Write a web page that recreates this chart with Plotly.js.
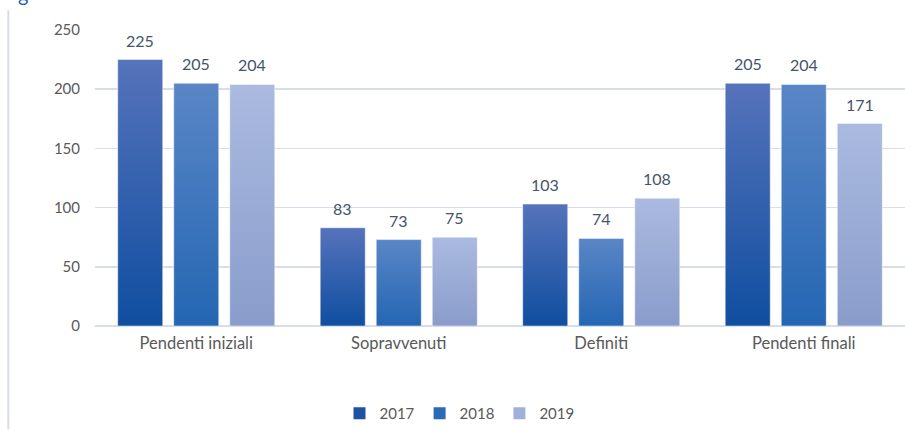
<!DOCTYPE html>
<html><head><meta charset="utf-8">
<script src="https://cdn.plot.ly/plotly-3.0.1.min.js"></script>
<style>html,body{margin:0;padding:0;background:#fff;}#chart{width:905px;height:430px;}</style>
</head><body><div id="chart"></div>
<script>
const categories = ["Pendenti iniziali", "Sopravvenuti", "Definiti", "Pendenti finali"];
const years = ["2017", "2018", "2019"];
const v2017 = [225, 83, 103, 205];
const v2018 = [205, 73, 74, 204];
const v2019 = [204, 75, 108, 171];
const yTicks = [0, 50, 100, 150, 200, 250];

const solid = ["#1f52a3", "#2a6ab7", "#9fb1db"];
const grads = [["#5673bb", "#0f4ea0"], ["#5a86c6", "#2466b3"], ["#aabae0", "#8a9ccb"]];
const series = [v2017, v2018, v2019];
const font = "Lato, 'Open Sans', sans-serif";

const traces = series.map((vals, i) => ({
  type: "bar", name: years[i], x: categories, y: vals,
  marker: {color: solid[i], line: {width: 0}},
  hoverinfo: "none"
}));

// data labels positioned through the axes, shifted per group slot
const slotPx = 56;
const labelAnn = [];
series.forEach((vals, i) => {
  vals.forEach((v, j) => {
    labelAnn.push({xref: "x", yref: "y", x: categories[j], y: v, xshift: (i - 1) * slotPx, yshift: 8,
      yanchor: "bottom", text: String(v), showarrow: false,
      font: {family: font, size: 16, color: "#44546a"}});
  });
});

const layout = {
  width: 905, height: 430,
  margin: {l: 95, r: 0, t: 30, b: 103},
  paper_bgcolor: "#fff", plot_bgcolor: "#fff",
  font: {family: font, size: 14, color: "#595959"},
  barmode: "group", bargap: 0.17, bargroupgap: 0.196,
  xaxis: {showgrid: false, showline: false, ticks: "", tickfont: {size: 16.5, color: "#595959"}, ticklabelstandoff: 5},
  yaxis: {range: [0, 250], tickvals: yTicks, showgrid: true, gridcolor: "#d9dde6", gridwidth: 1.5,
          zeroline: true, zerolinecolor: "#d9dde6", zerolinewidth: 1.5, showline: false,
          tickfont: {size: 15, color: "#595959"}, ticklabelstandoff: 14},
  showlegend: true,
  legend: {orientation: "h", x: 0.45, xanchor: "center", y: -0.24, yanchor: "top",
           font: {size: 15, color: "#595959"}, itemwidth: 30, traceorder: "normal"},
  shapes: [{type: "line", xref: "paper", yref: "paper", x0: -0.107, x1: -0.107, y0: 1.067, y1: -0.35,
            line: {color: "#d9dde3", width: 2}}],
  annotations: labelAnn.concat([{xref: "paper", yref: "paper", x: -0.0975, y: 1.074, xanchor: "left", yanchor: "bottom",
                 text: "g", showarrow: false, font: {family: font, size: 20, color: "#1f5fa8"}}])
};

Plotly.newPlot("chart", traces, layout, {displayModeBar: false, staticPlot: true}).then(gd => {
  const svg = gd.querySelector("svg.main-svg");
  let defs = svg.querySelector("defs");
  const ns = "http://www.w3.org/2000/svg";
  grads.forEach((g, i) => {
    const lg = document.createElementNS(ns, "linearGradient");
    lg.setAttribute("id", "bargrad" + i);
    lg.setAttribute("x1", "0"); lg.setAttribute("y1", "0");
    lg.setAttribute("x2", "0"); lg.setAttribute("y2", "1");
    [[0, g[0]], [1, g[1]]].forEach(([o, c]) => {
      const s = document.createElementNS(ns, "stop");
      s.setAttribute("offset", o); s.setAttribute("stop-color", c);
      lg.appendChild(s);
    });
    defs.appendChild(lg);
  });
  gd.querySelectorAll(".barlayer .trace").forEach((t, i) => {
    t.querySelectorAll(".point path").forEach(p => {
      p.style.fill = "url(#bargrad" + i + ")";
      p.style.stroke = "rgba(255,255,255,0.5)";
      p.style.strokeWidth = "1px";
    });
  });
});
</script></body></html>
